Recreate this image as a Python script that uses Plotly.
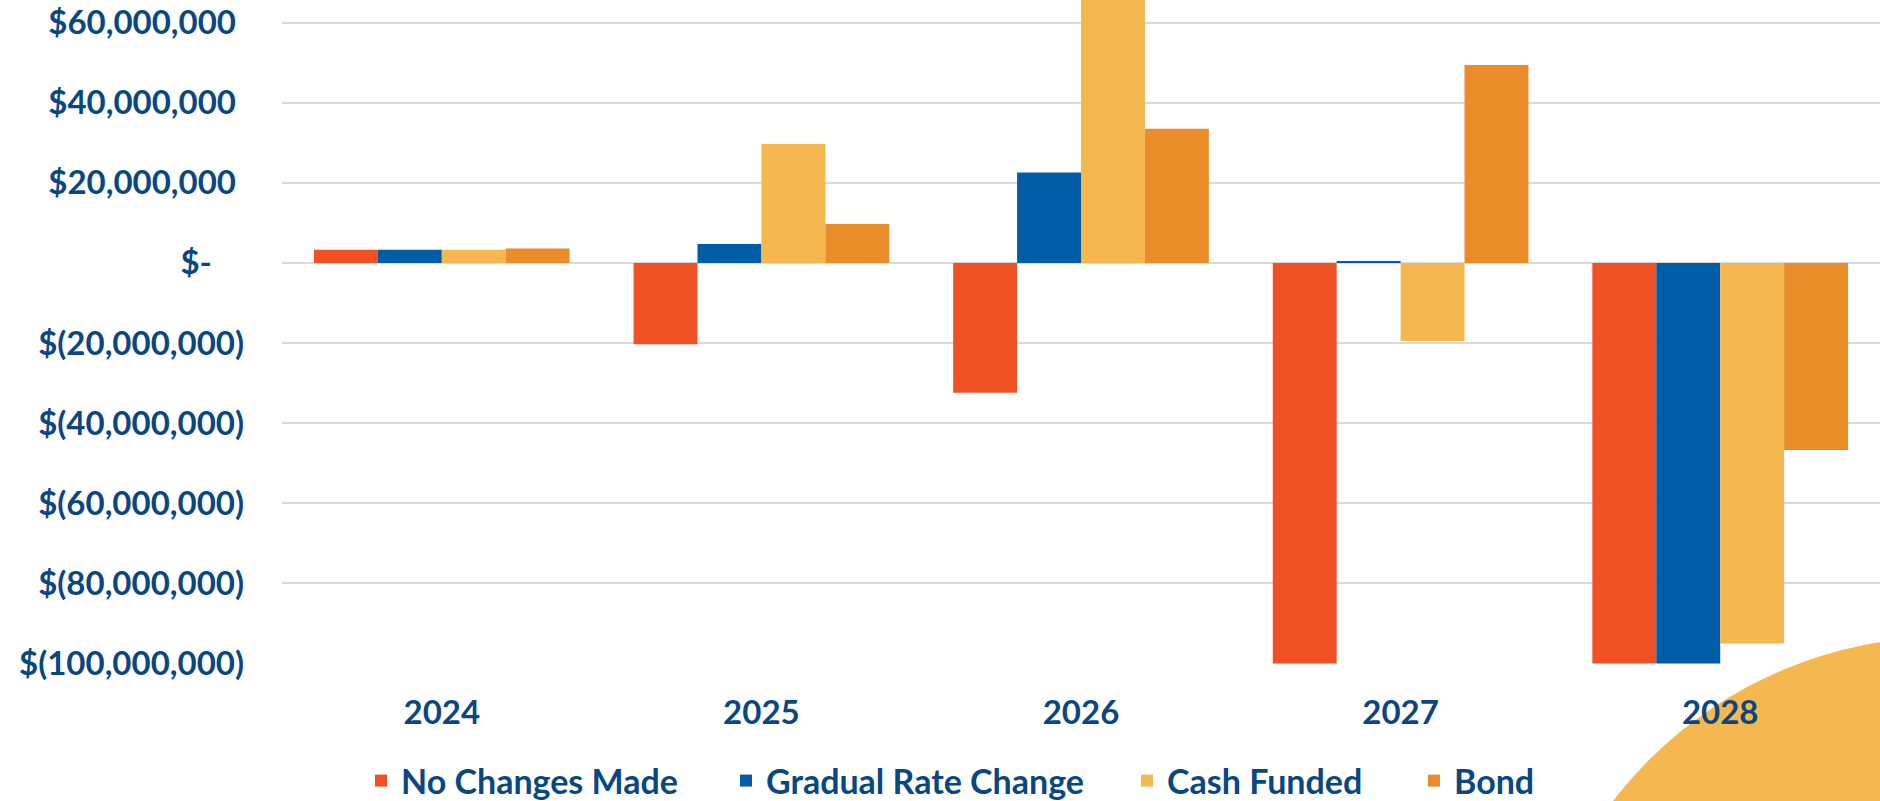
import plotly.graph_objects as go

# ---- data ----
years = ["2024", "2025", "2026", "2027", "2028"]
no_changes = [3_300_000, -20_300_000, -32_400_000, -100_000_000, -100_000_000]
gradual = [3_300_000, 4_700_000, 22_600_000, 400_000, -100_000_000]
cash_funded = [3_300_000, 29_700_000, 68_000_000, -19_500_000, -95_000_000]
bond = [3_600_000, 9_700_000, 33_500_000, 49_400_000, -46_700_000]

series_names = ["No Changes Made", "Gradual Rate Change", "Cash Funded", "Bond"]
series_values = [no_changes, gradual, cash_funded, bond]
series_colors = ["#F05123", "#005CA7", "#F5B851", "#EA8C2A"]
legend_widths = [320, 356, 242, 90]

y_tickvals = [60_000_000, 40_000_000, 20_000_000, 0, -20_000_000, -40_000_000,
              -60_000_000, -80_000_000, -100_000_000]
y_ticktext = ["$60,000,000\u00a0", "$40,000,000\u00a0", "$20,000,000\u00a0",
              "$-\u00a0\u00a0\u00a0\u00a0", "$(20,000,000)", "$(40,000,000)",
              "$(60,000,000)", "$(80,000,000)", "$(100,000,000)"]

TEXT = "#0A4780"
FONT = "Lato"

fig = go.Figure()
for name, vals, col, lw in zip(series_names, series_values, series_colors, legend_widths):
    fig.add_trace(go.Bar(x=years, y=vals, name=name, legendwidth=lw,
                         marker=dict(color=col, line=dict(width=0))))

W, H = 1880, 801
ML, MR, MT, MB = 282, 0, 0, 137
plot_w = W - ML - MR
plot_h = H - MT - MB

def px_to_paper_x(px):
    return (px - ML) / plot_w

def px_to_paper_y(py):
    return (H - MB - py) / plot_h

# decorative circle at bottom-right
cx, cy, r = 1946, 1057, 420
fig.add_shape(type="circle", xref="paper", yref="paper", layer="below",
              x0=px_to_paper_x(cx - r), x1=px_to_paper_x(cx + r),
              y0=px_to_paper_y(cy + r), y1=px_to_paper_y(cy - r),
              fillcolor="#F5B851", line=dict(width=0))

fig.update_layout(
    width=W, height=H,
    margin=dict(l=ML, r=MR, t=MT, b=MB, pad=0, autoexpand=False),
    paper_bgcolor="white", plot_bgcolor="rgba(0,0,0,0)",
    barmode="group", bargap=0.2, bargroupgap=0,
    font=dict(family=FONT, color=TEXT),
    showlegend=True,
    legend=dict(orientation="h", x=px_to_paper_x(361), xanchor="left",
                y=px_to_paper_y(781), yanchor="middle",
                font=dict(family=FONT, size=34, color=TEXT, weight="bold"),
                traceorder="normal", bgcolor="rgba(0,0,0,0)", borderwidth=0),
)
fig.update_xaxes(type="category", showgrid=False, zeroline=False, showline=False, ticks="",
                 tickfont=dict(family=FONT, size=33, color=TEXT, weight="bold"),
                 ticklabelstandoff=26, fixedrange=True)
fig.update_yaxes(range=[-100_150_000, 65_650_000], tickvals=y_tickvals, ticktext=y_ticktext,
                 showgrid=True, gridcolor="#D9D9D9", gridwidth=2, zeroline=False, showline=False,
                 ticks="", tickfont=dict(family=FONT, size=33, color=TEXT, weight="bold"),
                 ticklabelstandoff=37, fixedrange=True)

fig.write_html("out.html", config={"displayModeBar": False},
               post_script="document.body.style.margin='0';document.body.style.overflow='hidden';")
